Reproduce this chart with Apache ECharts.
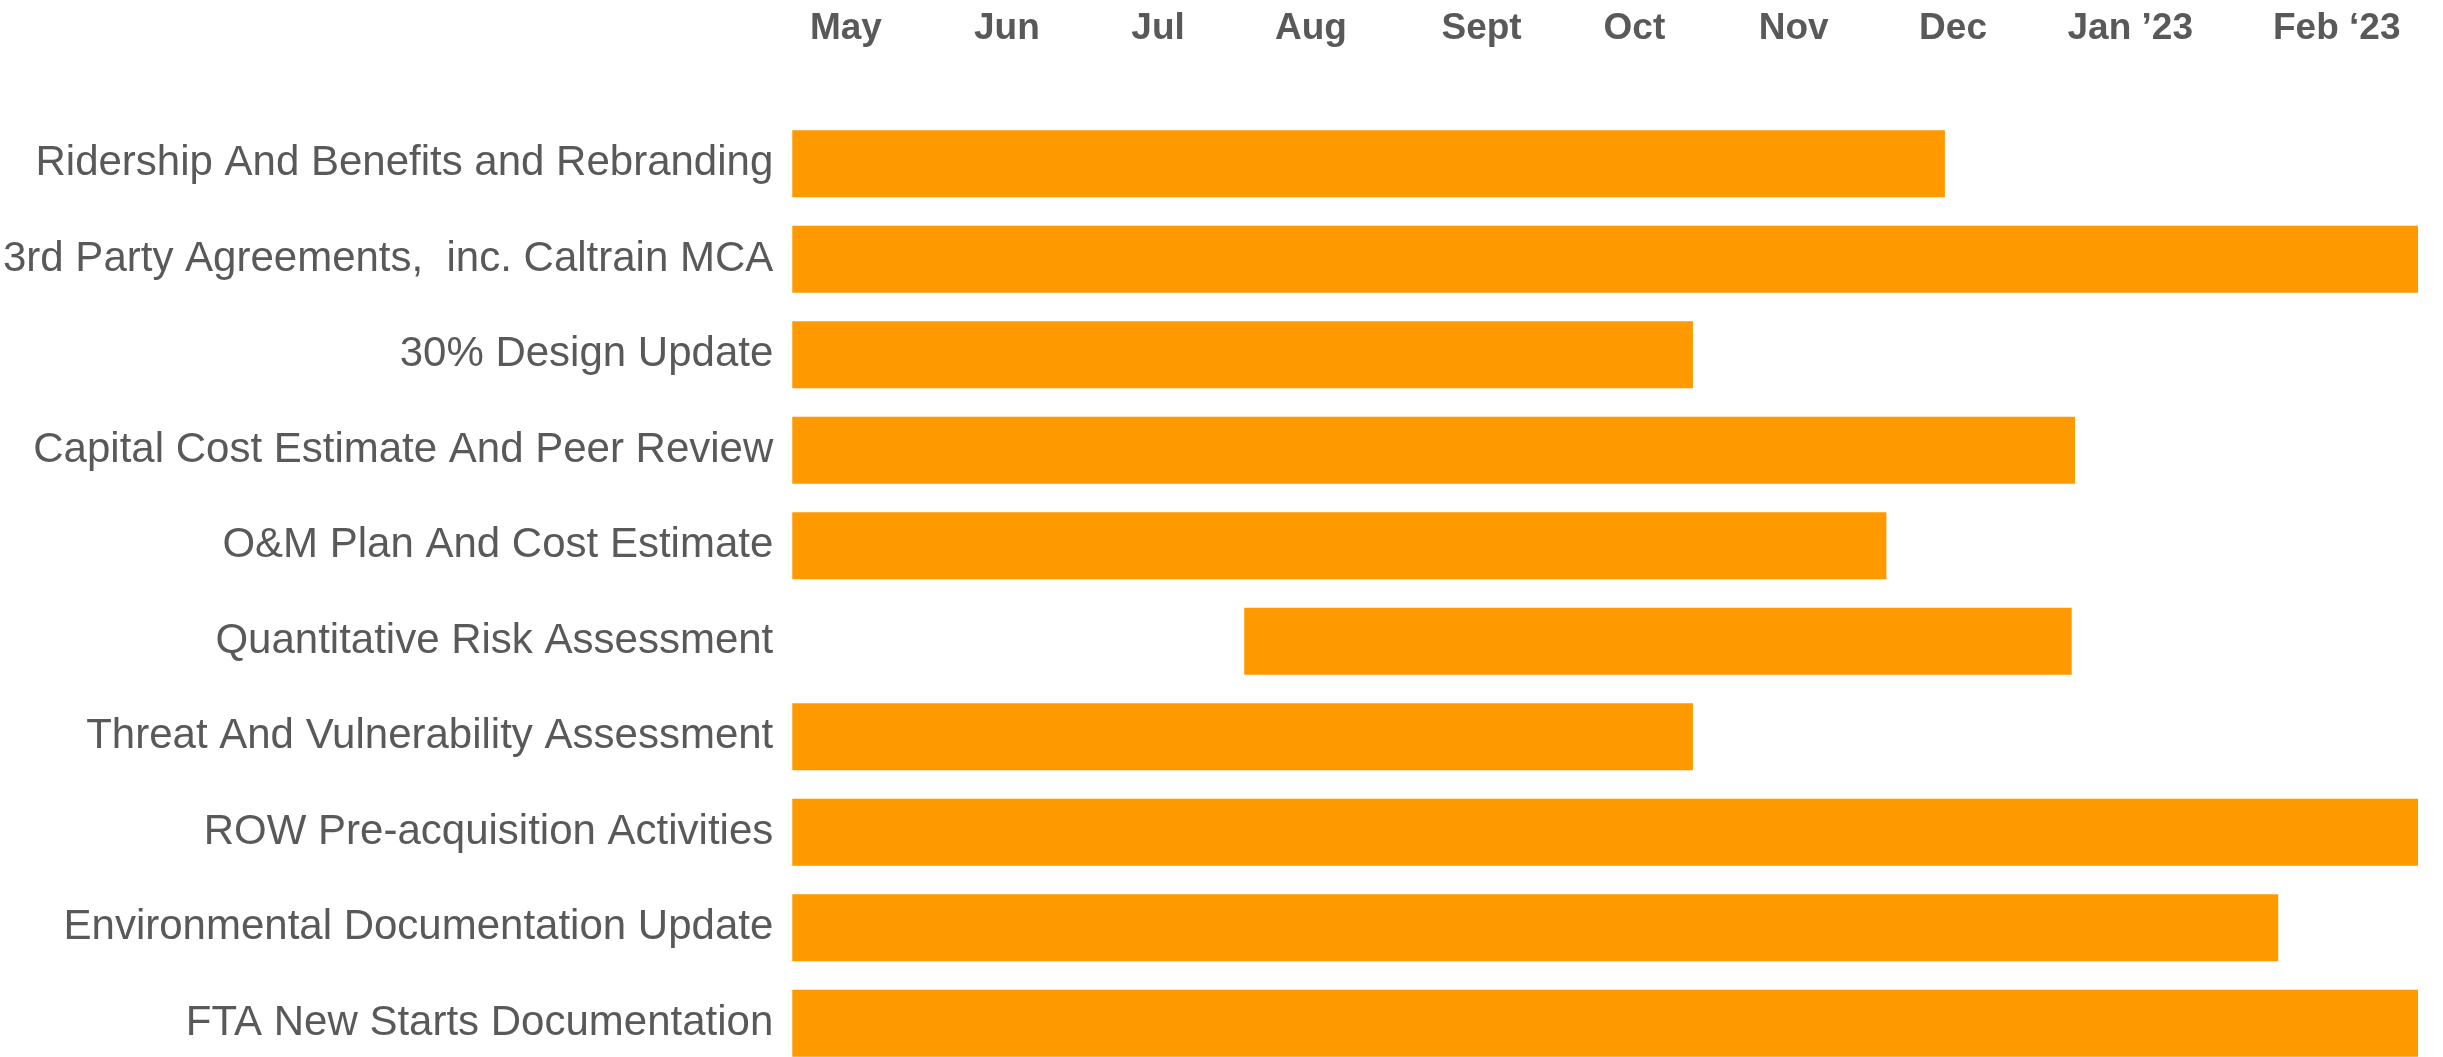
<!DOCTYPE html>
<html>
<head>
<meta charset="utf-8">
<script src="https://cdn.jsdelivr.net/npm/echarts@6/dist/echarts.min.js"></script>
<style>
  html, body { margin: 0; padding: 0; background: #fff; height: 1057px; overflow: hidden; }
  #main { width: 2443px; height: 1071px; }
</style>
</head>
<body>
<div id="main"></div>
<script>
// tasks, top to bottom
var tasks = [
    'Ridership And Benefits and Rebranding',
    '3rd Party Agreements,  inc. Caltrain MCA',
    '30% Design Update',
    'Capital Cost Estimate And Peer Review',
    'O&M Plan And Cost Estimate',
    'Quantitative Risk Assessment',
    'Threat And Vulnerability Assessment',
    'ROW Pre-acquisition Activities',
    'Environmental Documentation Update',
    'FTA New Starts Documentation'
];
// months counted from start of May
var startMonth = [0, 0, 0, 0, 0, 2.78, 0, 0, 0, 0];
var endMonth = [7.09, 10, 5.54, 7.89, 6.73, 7.87, 5.54, 10, 9.14, 10];

var monthNames = ['May', 'Jun', 'Jul', 'Aug', 'Sept', 'Oct', 'Nov', 'Dec', 'Jan \u201923', 'Feb \u201823'];
var monthLabelAt = [0.33, 1.32, 2.25, 3.19, 4.24, 5.18, 6.16, 7.14, 8.23, 9.5];

var duration = endMonth.map((e, i) => e - startMonth[i]);

var chart = echarts.init(document.getElementById('main'));

chart.setOption({
    animation: false,
    grid: { left: 790, right: 25, top: 116, bottom: 0, containLabel: false },
    xAxis: {
        type: 'value',
        position: 'top',
        min: 0,
        max: 10,
        axisLine: { show: false },
        axisTick: { show: false },
        splitLine: { show: false },
        axisLabel: {
            customValues: monthLabelAt,
            margin: 69,
            fontFamily: '"Liberation Sans Narrow", "Arial Narrow", "Liberation Sans", Arial, sans-serif',
            fontWeight: 'bold',
            fontSize: 37,
            color: '#595959',
            formatter: function (v) {
                let idx = monthLabelAt.findIndex(p => Math.abs(p - v) < 1e-6);
                return idx < 0 ? '' : monthNames[idx];
            }
        }
    },
    yAxis: {
        type: 'category',
        inverse: true,
        data: tasks,
        axisLine: { show: false },
        axisTick: { show: false },
        axisLabel: {
            interval: 0,
            margin: 19,
            fontFamily: '"Liberation Sans", Arial, sans-serif',
            fontSize: 42,
            color: '#595959'
        }
    },
    series: [
        {
            type: 'bar',
            stack: 'gantt',
            silent: true,
            itemStyle: { color: 'transparent' },
            barWidth: '70%',
            data: startMonth
        },
        {
            type: 'bar',
            stack: 'gantt',
            itemStyle: { color: '#FF9900' },
            barWidth: '70%',
            data: duration
        }
    ]
});
</script>
</body>
</html>
